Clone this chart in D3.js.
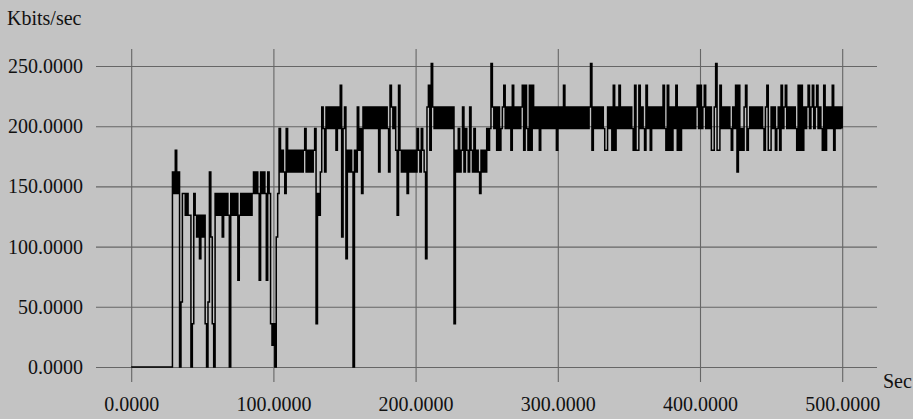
<!DOCTYPE html>
<html>
<head>
<meta charset="utf-8">
<script src="https://cdn.jsdelivr.net/npm/d3@7"></script>
<style>
  html, body { margin: 0; padding: 0; background: #c3c3c3; }
  svg { display: block; }
  .tick text { font-family: "Liberation Serif", "Times New Roman", serif; font-size: 20px; fill: #111; }
  .tick line { stroke: #666; stroke-width: 1.1; }
  .lbl { font-family: "Liberation Serif", "Times New Roman", serif; font-size: 20px; fill: #111; }
</style>
</head>
<body>
<div id="chart"></div>
<script>
// throughput samples, one per second (Kbits/sec)
const s000 = [0,0,0,0,0,0,0,0,0,0, 0,0,0,0,0,0,0,0,0,0, 0,0,0,0,0,0,0,0,0,
  162,144,180,144,162,0,54,144,144,126,144,
  126,126,0,36,144,126,108,126,90,126,
  108,126,36,0,54,162,108,36,0,144,
  126,144,126,144,108,144,126,144,126,0,
  144,126,144,126,144,72,126,144,126,144,
  126,144,126,144,126,144,162,144,162,144,
  72,162,144,162,144,72,162,144,36,18];
const s100 = [36,0,108,144,198,162,180,162,144,198,
  162,180,162,180,162,180,162,180,162,180,
  162,180,198,162,180,162,180,162,180,198,
  36,144,126,162,216,198,162,216,198,216,
  198,216,198,216,180,216,198,234,108,198,
  216,90,180,162,180,162,0,180,162,216,
  180,198,144,216,198,216,198,216,198,216,
  198,216,198,216,162,216,198,216,198,216,
  198,162,234,216,198,216,180,126,234,180,
  162,180,162,180,144,180,162,180,162,180];
const s200 = [162,198,180,162,198,180,162,90,216,234,
  180,252,216,198,216,198,216,198,216,198,
  216,198,216,198,216,198,216,36,180,162,
  198,162,180,216,162,198,180,162,216,180,
  162,198,162,180,162,144,180,162,180,162,
  198,180,198,252,216,198,216,180,216,180,
  198,216,234,198,216,198,216,180,234,198,
  216,198,216,198,216,234,180,234,198,180,
  234,180,234,198,216,198,216,180,216,198,
  216,198,216,198,216,198,216,198,216,180];
const s300 = [216,198,216,198,234,198,216,198,216,198,
  216,198,216,198,216,198,216,198,216,198,
  216,198,216,252,180,216,198,216,198,216,
  198,216,198,180,180,216,198,216,180,234,
  180,216,198,234,198,216,198,216,198,216,
  198,216,198,180,234,180,180,234,198,216,
  198,180,234,198,216,180,216,198,216,198,
  216,198,216,198,234,198,180,234,180,216,
  180,216,198,234,180,216,180,216,198,216,
  198,216,198,216,198,216,198,216,234,198];
const s400 = [234,198,216,234,198,216,198,216,180,180,
  216,252,180,180,234,198,216,198,216,198,
  216,198,180,216,198,234,162,234,180,198,
  180,216,234,180,198,216,198,216,198,216,
  198,216,198,216,198,180,216,234,180,180,
  216,198,216,180,198,216,180,234,198,216,
  234,198,216,198,216,198,216,198,180,234,
  180,234,180,216,198,216,234,198,216,234,
  198,216,234,198,216,198,180,234,180,216,
  198,216,198,234,180,216,198,216,198,216,
  198];

const yTicks = [0, 50, 100, 150, 200, 250];
const xTicks = [0, 100, 200, 300, 400, 500];

const series = [].concat(s000, s100, s200, s300, s400).map((v, i) => ({ t: i, v: v }));

const width = 913, height = 419;
const gridLeft = 96, gridRight = 877, gridTop = 49, gridBottom = 382;

const x = d3.scaleLinear().domain([0, 500]).range([131.2, 842.2]);
const y = d3.scaleLinear().domain([0, 250]).range([367, 66]);

const svg = d3.select("#chart").append("svg")
  .attr("width", width)
  .attr("height", height);

// horizontal grid + y labels
svg.append("g")
  .attr("transform", `translate(${gridLeft},0)`)
  .call(d3.axisLeft(y).tickValues(yTicks)
    .tickSize(-(gridRight - gridLeft))
    .tickPadding(13)
    .tickFormat(d3.format(".4f")))
  .call(g => g.select(".domain").remove());

// vertical grid + x labels
svg.append("g")
  .attr("transform", `translate(0,${gridBottom})`)
  .call(d3.axisBottom(x).tickValues(xTicks)
    .tickSize(-(gridBottom - gridTop))
    .tickPadding(15)
    .tickFormat(d3.format(".4f")))
  .call(g => g.select(".domain").remove());

const line = d3.line()
  .curve(d3.curveStepAfter)
  .x(d => x(d.t))
  .y(d => y(d.v));

svg.append("path")
  .datum(series)
  .attr("fill", "none")
  .attr("stroke", "#000")
  .attr("stroke-width", 1.5)
  .attr("d", line);

svg.append("text")
  .attr("class", "lbl")
  .attr("x", 7)
  .attr("y", 25)
  .text("Kbits/sec");

svg.append("text")
  .attr("class", "lbl")
  .attr("x", 883)
  .attr("y", 388)
  .text("Sec");
</script>
</body>
</html>
